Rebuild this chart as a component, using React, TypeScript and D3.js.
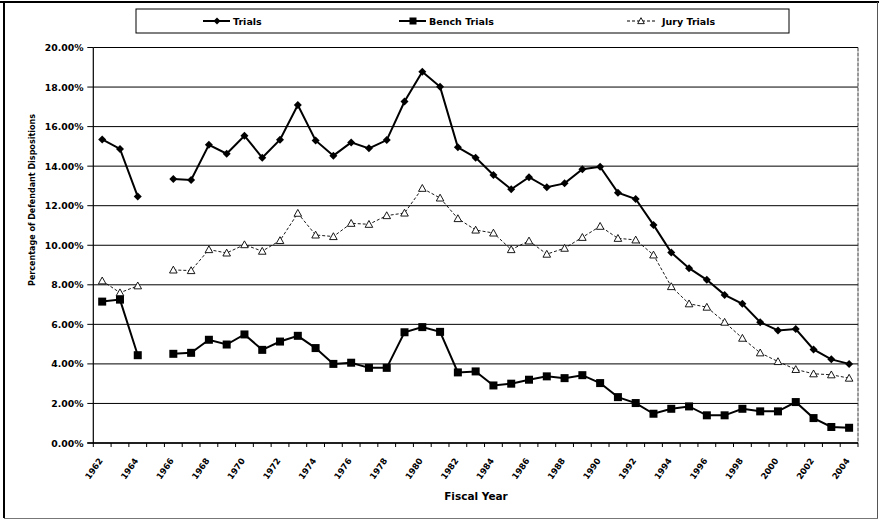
import React from "react";
import * as d3 from "d3";

const years: number[] = d3.range(1962, 2005);

const trials: (number | null)[] = [
  15.35, 14.87, 12.46, null, 13.35, 13.3, 15.08, 14.63, 15.54, 14.43, 15.34,
  17.09, 15.3, 14.53, 15.2, 14.9, 15.32, 17.27, 18.77, 18.01, 14.95,
  14.43, 13.55, 12.83, 13.44, 12.93, 13.13, 13.84, 13.97, 12.66, 12.34,
  11.03, 9.63, 8.84, 8.25, 7.49, 7.04, 6.11, 5.69, 5.76, 4.73, 4.23, 4.0,
];

const bench: (number | null)[] = [
  7.15, 7.25, 4.44, null, 4.51, 4.56, 5.22, 4.98, 5.49, 4.71, 5.13,
  5.42, 4.8, 4.0, 4.06, 3.8, 3.8, 5.6, 5.86, 5.62, 3.57,
  3.62, 2.91, 3.0, 3.2, 3.37, 3.28, 3.43, 3.03, 2.32, 2.02,
  1.48, 1.73, 1.85, 1.4, 1.4, 1.73, 1.6, 1.6, 2.07, 1.26, 0.81, 0.77,
];

const jury: (number | null)[] = [
  8.2, 7.6, 7.95, null, 8.75, 8.72, 9.78, 9.61, 10.03, 9.7, 10.24,
  11.62, 10.52, 10.44, 11.11, 11.06, 11.5, 11.63, 12.88, 12.39, 11.35,
  10.77, 10.62, 9.78, 10.22, 9.55, 9.85, 10.4, 10.96, 10.35, 10.27,
  9.51, 7.91, 7.04, 6.87, 6.11, 5.3, 4.56, 4.12, 3.72, 3.5, 3.45, 3.28,
];

const yTicks: number[] = [0, 2, 4, 6, 8, 10, 12, 14, 16, 18, 20];
const xTickYears: number[] = years.filter((y) => y % 2 === 0);
const seriesNames: string[] = ["Trials", "Bench Trials", "Jury Trials"];

const FONT = "'DejaVu Sans', 'Liberation Sans', Arial, sans-serif";

const L = 93.3, R = 858, T = 47.5, B = 443;

export default function App() {
  const x = d3.scaleBand<number>().domain(years).range([L, R]).padding(0);
  const bw = x.bandwidth();
  const cx = (yr: number) => (x(yr) as number) + bw / 2;
  const y = d3.scaleLinear().domain([0, 20]).range([B, T]);

  const mkLine = (vals: (number | null)[]) =>
    d3
      .line<number>()
      .defined((_, i) => vals[i] !== null)
      .x((yr) => cx(yr))
      .y((_, i) => y(vals[i] as number))(years) || "";

  const diamond = (px: number, py: number, s = 4) =>
    `M${px},${py - s}L${px + s},${py}L${px},${py + s}L${px - s},${py}Z`;
  const tri = (px: number, py: number, s = 3.8) =>
    `M${px},${py - s}L${px + s},${py + s * 0.8}L${px - s},${py + s * 0.8}Z`;

  const boundaries = years.map((yr) => x(yr) as number).concat([R]);

  return (
    <svg
      width={879}
      height={520}
      style={{ position: "absolute", left: 0, top: 0, background: "#fff" }}
      fontFamily={FONT}
    >
      <rect x={0} y={0} width={879} height={520} fill="#fff" />
      {/* outer frame */}
      <line x1={0} y1={2} x2={879} y2={2} stroke="#000" strokeWidth={2} />
      <line x1={4} y1={2} x2={4} y2={518} stroke="#000" strokeWidth={2} />
      <line x1={4} y1={518.5} x2={878} y2={518.5} stroke="#777" strokeWidth={1} />
      <line x1={877.5} y1={2} x2={877.5} y2={518} stroke="#555" strokeWidth={1} />

      {/* legend */}
      <rect x={136} y={9} width={653} height={24} fill="#fff" stroke="#000" strokeWidth={1} />
      <g>
        <line x1={203} x2={230} y1={21} y2={21} stroke="#000" strokeWidth={2} />
        <path d={diamond(217, 21, 3.5)} fill="#000" />
        <text x={233} y={21} dominantBaseline="central" fontSize={9.5} fontWeight="bold">
          {seriesNames[0]}
        </text>
        <line x1={399} x2={426} y1={21} y2={21} stroke="#000" strokeWidth={2} />
        <rect x={409.5} y={17.5} width={7} height={7} fill="#000" />
        <text x={429} y={21} dominantBaseline="central" fontSize={9.5} fontWeight="bold">
          {seriesNames[1]}
        </text>
        <line x1={627} x2={656} y1={21} y2={21} stroke="#000" strokeWidth={1} strokeDasharray="3,2" />
        <path d={tri(641, 21, 3.3)} fill="#fff" stroke="#000" strokeWidth={0.9} />
        <text x={662} y={21} dominantBaseline="central" fontSize={9.5} fontWeight="bold">
          {seriesNames[2]}
        </text>
      </g>

      {/* gridlines */}
      {yTicks.map((t) => (
        <line key={"g" + t} x1={L} x2={R} y1={y(t)} y2={y(t)} stroke="#000" strokeWidth={1} />
      ))}
      {/* plot border */}
      <line x1={R} x2={R} y1={T} y2={B} stroke="#333" strokeWidth={1} strokeDasharray="4,1" />
      <line x1={L} x2={L} y1={T} y2={B + 0.5} stroke="#000" strokeWidth={1.2} />
      <line x1={L - 6} x2={R} y1={B} y2={B} stroke="#000" strokeWidth={1.6} />

      {/* y ticks and labels */}
      {yTicks.map((t) => (
        <g key={"yt" + t}>
          <line x1={L - 6} x2={L} y1={y(t)} y2={y(t)} stroke="#000" strokeWidth={1} />
          <text
            x={83.5}
            y={y(t)}
            textAnchor="end"
            dominantBaseline="central"
            fontSize={9.3}
            fontWeight="bold"
          >
            {t.toFixed(2) + "%"}
          </text>
        </g>
      ))}

      {/* x ticks */}
      {boundaries.map((bx, i) => (
        <line key={"xt" + i} x1={bx} x2={bx} y1={B} y2={B + 4} stroke="#000" strokeWidth={1} />
      ))}
      {xTickYears.map((yr) => (
        <text
          key={"xl" + yr}
          transform={`translate(${cx(yr) - 1.5},${459}) rotate(-55)`}
          textAnchor="end"
          dy="0.35em"
          fontSize={8.5}
          fontWeight="bold"
        >
          {yr}
        </text>
      ))}

      {/* axis titles */}
      <text x={476} y={496} textAnchor="middle" dominantBaseline="central" fontSize={10.5} fontWeight="bold">
        Fiscal Year
      </text>
      <text
        transform={`translate(32,200) rotate(-90)`}
        textAnchor="middle"
        dominantBaseline="central"
        fontSize={9}
        fontWeight="bold"
        textLength={172}
        lengthAdjust="spacingAndGlyphs"
      >
        Percentage of Defendant Dispositions
      </text>

      {/* series lines */}
      <path d={mkLine(jury)} fill="none" stroke="#000" strokeWidth={0.9} strokeDasharray="3,2" />
      <path d={mkLine(bench)} fill="none" stroke="#000" strokeWidth={2} />
      <path d={mkLine(trials)} fill="none" stroke="#000" strokeWidth={2} />

      {/* markers */}
      {years.map((yr, i) =>
        jury[i] === null ? null : (
          <path key={"jm" + yr} d={tri(cx(yr), y(jury[i] as number))} fill="#fff" stroke="#000" strokeWidth={0.9} />
        )
      )}
      {years.map((yr, i) =>
        bench[i] === null ? null : (
          <rect
            key={"bm" + yr}
            x={cx(yr) - 4}
            y={y(bench[i] as number) - 4}
            width={8}
            height={8}
            fill="#000"
          />
        )
      )}
      {years.map((yr, i) =>
        trials[i] === null ? null : (
          <path key={"tm" + yr} d={diamond(cx(yr), y(trials[i] as number))} fill="#000" />
        )
      )}
    </svg>
  );
}
